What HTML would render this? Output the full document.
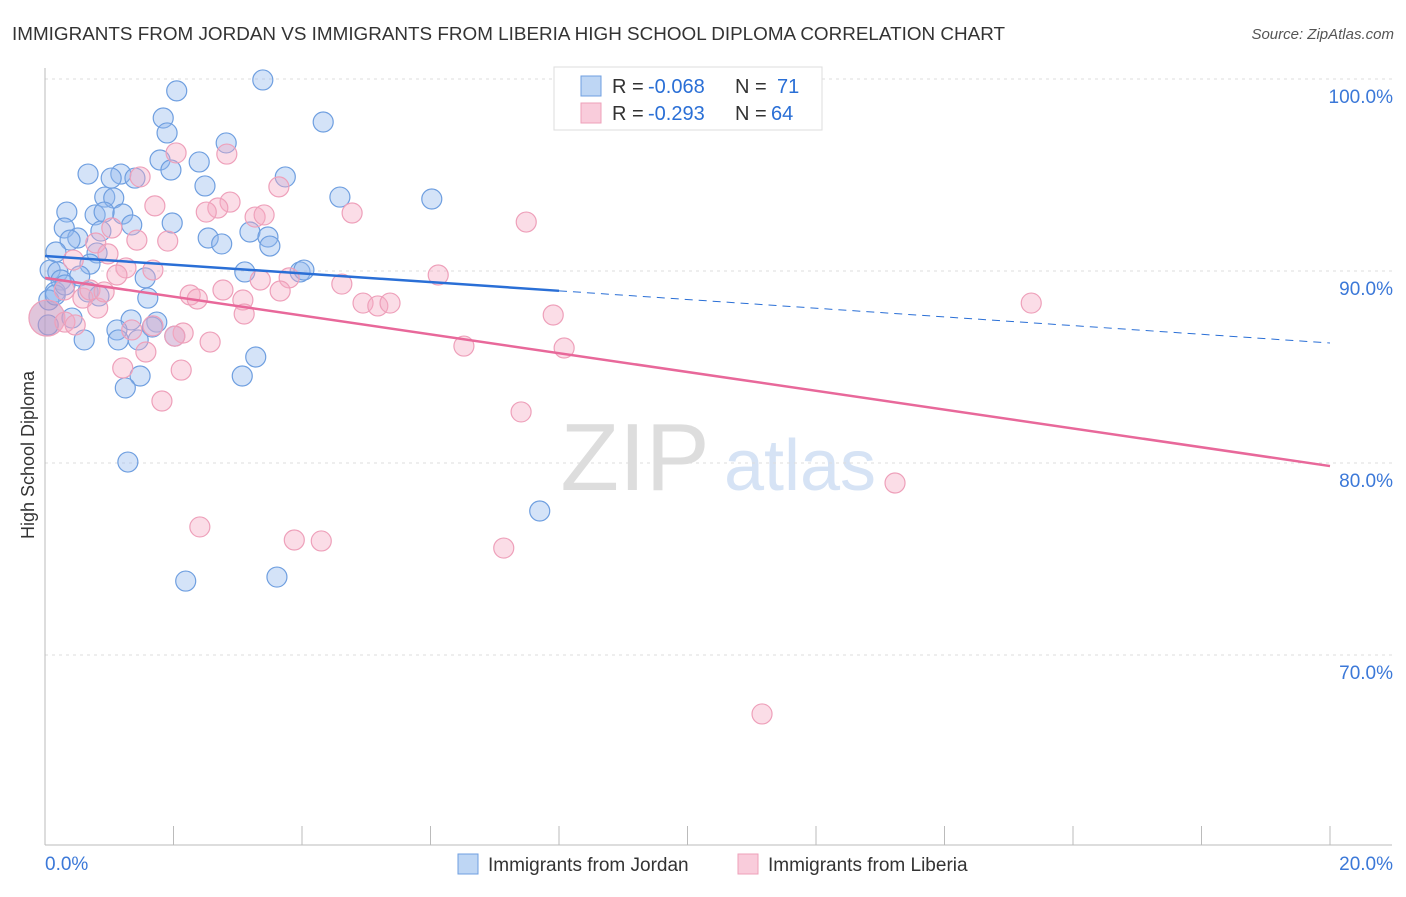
<!DOCTYPE html>
<html><head><meta charset="utf-8"><style>
body{margin:0;background:#fff;font-family:"Liberation Sans",sans-serif;}
svg text{font-family:"Liberation Sans",sans-serif;}
</style></head><body>
<svg id="chart" width="1406" height="892" xmlns="http://www.w3.org/2000/svg">
<text x="12" y="40" font-size="18" fill="#333" textLength="993" lengthAdjust="spacingAndGlyphs">IMMIGRANTS FROM JORDAN VS IMMIGRANTS FROM LIBERIA HIGH SCHOOL DIPLOMA CORRELATION CHART</text>
<text x="1394" y="39" font-size="15" fill="#555" text-anchor="end" font-style="italic">Source: ZipAtlas.com</text>
<text transform="translate(34,455) rotate(-90)" font-size="18" fill="#333" text-anchor="middle">High School Diploma</text>
<g><text x="635" y="490" font-size="96" fill="#ddd" font-family="Liberation Serif" text-anchor="middle">ZIP</text><text x="800" y="490" font-size="72" fill="#d6e3f5" text-anchor="middle">atlas</text></g>
<g id="grid"></g><g id="pts"></g><g id="lines"></g>
<g>
<rect x="554" y="67" width="268" height="63" fill="#fff" stroke="#ddd"/>
<rect x="581" y="76" width="20" height="20" fill="rgba(147,186,237,0.6)" stroke="#6f9fe0"/>
<rect x="581" y="103" width="20" height="20" fill="rgba(245,170,195,0.6)" stroke="#eea0ba"/>
<text x="612" y="93" font-size="20" fill="#333">R =</text>
<text x="648" y="93" font-size="20" fill="#2a6fd6">-0.068</text>
<text x="735" y="93" font-size="20" fill="#333">N =</text>
<text x="777" y="93" font-size="20" fill="#2a6fd6">71</text>
<text x="612" y="120" font-size="20" fill="#333">R =</text>
<text x="648" y="120" font-size="20" fill="#2a6fd6">-0.293</text>
<text x="735" y="120" font-size="20" fill="#333">N =</text>
<text x="771" y="120" font-size="20" fill="#2a6fd6">64</text>
</g>
<g>
<rect x="458" y="854" width="20" height="20" fill="rgba(147,186,237,0.6)" stroke="#6f9fe0"/>
<text x="488" y="871" font-size="19" fill="#333">Immigrants from Jordan</text>
<rect x="738" y="854" width="20" height="20" fill="rgba(245,170,195,0.6)" stroke="#eea0ba"/>
<text x="768" y="871" font-size="19" fill="#333">Immigrants from Liberia</text>
</g>
</svg>
<script>
const yTicks=[100,90,80,70];
const yTickLabels=["100.0%","90.0%","80.0%","70.0%"];
const xTickLabels=["0.0%","20.0%"];
const jordanX=[3.39,2.05,1.84,4.33,1.90,2.82,1.79,2.40,1.96,0.67,1.18,1.03,1.40,3.74,2.49,4.59,6.02,0.93,1.07,0.34,0.78,1.21,0.92,1.98,1.35,0.30,0.87,3.19,2.54,3.47,0.51,0.39,2.75,3.50,0.17,0.81,0.70,0.08,0.20,0.54,3.11,3.97,4.03,0.25,1.56,0.67,0.84,1.60,0.16,0.06,0.42,1.34,1.74,1.12,1.67,1.14,1.45,0.61,2.02,3.28,1.48,3.07,1.25,1.29,7.70,2.19,3.61,0.05,0.16,0.31];
const jordanY=[99.95,99.38,97.97,97.76,97.19,96.67,95.78,95.68,95.26,95.05,95.05,94.84,94.84,94.90,94.43,93.85,93.75,93.85,93.80,93.07,92.92,92.97,93.07,92.50,92.40,92.24,92.08,92.03,91.72,91.77,91.72,91.61,91.41,91.30,90.99,90.94,90.36,90.05,89.95,89.74,89.95,89.95,90.05,89.53,89.64,88.91,88.70,88.59,88.91,88.49,87.55,87.45,87.34,86.93,87.08,86.41,86.41,86.41,86.61,85.52,84.53,84.53,83.91,80.05,77.50,73.85,74.06,87.19,88.75,89.27];
const liberiaX=[0.03,9.42,2.04,2.83,1.48,3.64,2.88,1.71,2.69,4.78,2.51,3.27,3.41,7.49,1.04,1.43,1.91,0.79,0.44,1.26,0.98,1.12,6.12,1.68,3.80,3.66,4.62,3.35,2.77,2.26,2.37,0.59,3.08,4.95,5.18,5.37,0.82,15.35,3.10,7.91,0.31,0.47,1.68,2.15,1.35,2.02,2.57,6.52,8.08,1.57,1.21,2.12,1.82,7.41,13.23,2.41,3.88,4.30,7.14,11.16,0.30,0.70,0.92];
const liberiaY=[87.55,99.95,96.15,96.09,94.90,94.38,93.59,93.39,93.28,93.02,93.07,92.81,92.92,92.55,92.24,91.61,91.56,91.46,90.57,90.16,90.89,89.79,89.79,90.05,89.64,88.96,89.32,89.53,89.01,88.75,88.54,88.59,88.49,88.33,88.18,88.33,88.07,88.33,87.76,87.71,87.34,87.19,87.14,86.77,86.93,86.61,86.30,86.09,85.99,85.78,84.95,84.84,83.23,82.66,78.96,76.67,75.99,75.94,75.57,66.93,89.01,89.01,88.91];
const jordanTrend=[90.78,86.25];
const liberiaTrend=[89.64,79.84];
const X=v=>45+v*64.25, Y=v=>79+(100-v)*19.2;
const NS="http://www.w3.org/2000/svg";
function mk(t,a,p){const e=document.createElementNS(NS,t);for(const k in a)e.setAttribute(k,a[k]);p.appendChild(e);return e;}
const grid=document.getElementById('grid');
yTicks.forEach((t,i)=>{
 const l=mk('line',{x1:45,x2:1392,y1:Y(t),y2:Y(t),stroke:'#ddd','stroke-dasharray':'3,4'},grid);
 
 
 const tx=mk('text',{x:1393,y:Y(t)+24,'font-size':19,fill:'#3b78d8','text-anchor':'end'},grid);
 tx.textContent=yTickLabels[i];
 
 
});
const ax=mk('line',{x1:45,x2:45,y1:68,y2:845,stroke:'#bbb'},grid);


const bx=mk('line',{x1:45,x2:1392,y1:845,y2:845,stroke:'#bbb'},grid);


for(let i=0;i<=10;i++){const tk=mk('line',{x1:X(i*2),x2:X(i*2),y1:826,y2:845,stroke:'#bbb'},grid);
 
 }
[[0,45,'start'],[20,1393,'end']].forEach((d,i)=>{const t=mk('text',{x:d[1],y:870,'font-size':19,fill:'#3b78d8','text-anchor':d[2]},grid);t.textContent=xTickLabels[i];
 
 });
const pts=document.getElementById('pts');
jordanX.forEach((x,i)=>{const c=mk('circle',{cx:X(x),cy:Y(jordanY[i]),r:10,fill:'rgba(147,186,237,0.4)',stroke:'#6f9fe0','stroke-width':1.2},pts);
 
 });
liberiaX.forEach((x,i)=>{const c=mk('circle',{cx:X(x),cy:Y(liberiaY[i]),r:i==0?18:10,fill:i==0?'rgba(200,150,190,0.55)':'rgba(245,170,195,0.4)',stroke:'#eea0ba','stroke-width':1.2},pts);
 
 });
const lines=document.getElementById('lines');
const jy=x=>jordanTrend[0]+(jordanTrend[1]-jordanTrend[0])*x/20;
const l1=mk('line',{x1:X(0),y1:Y(jy(0)),x2:X(8),y2:Y(jy(8)),stroke:'#2a6fd6','stroke-width':2.5},lines);


const l2=mk('line',{x1:X(8),y1:Y(jy(8)),x2:X(20),y2:Y(jy(20)),stroke:'#2a6fd6','stroke-width':1,'stroke-dasharray':'8,6'},lines);


const l3=mk('line',{x1:X(0),y1:Y(liberiaTrend[0]),x2:X(20),y2:Y(liberiaTrend[1]),stroke:'#e8689a','stroke-width':2.5},lines);


</script>
</body></html>
